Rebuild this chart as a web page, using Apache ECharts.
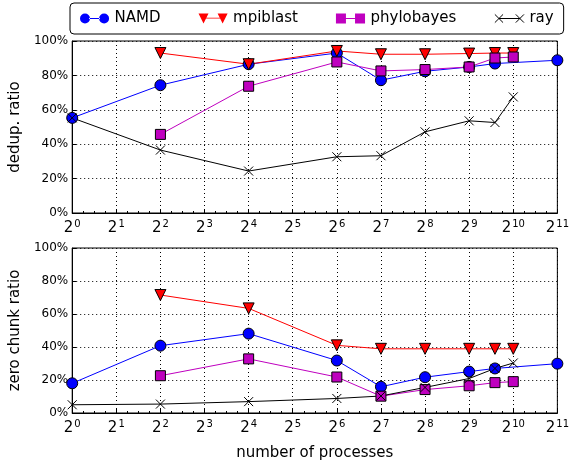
<!DOCTYPE html>
<html>
<head>
<meta charset="utf-8">
<script src="https://cdn.jsdelivr.net/npm/echarts@6/dist/echarts.min.js"></script>
<style>
  html, body { margin: 0; padding: 0; background: #fff; }
  #chart { width: 572px; height: 462px; }
</style>
</head>
<body>
<div id="chart"></div>
<script>
// process counts per series (x axis is log2 of these)
let namdProcs  = [1, 4, 16, 64, 128, 256, 512, 768, 2048];
let otherProcs = [4, 16, 64, 128, 256, 512, 768, 1024];   // mpiblast, phylobayes
let rayProcs   = [1, 4, 16, 64, 128, 256, 512, 768, 1024];

// dedup. ratio (%)
let namdDedup  = [55.3, 74.3, 86.5, 93.0, 77.2, 82.4, 84.9, 86.9, 88.8];
let mpiDedup   = [93.0, 86.5, 94.2, 92.3, 92.3, 92.7, 93.0, 93.0];
let phyloDedup = [45.7, 73.7, 87.8, 82.6, 83.4, 84.9, 90.1, 90.7];
let rayDedup   = [55.3, 36.6, 24.4, 32.7, 33.3, 47.2, 53.6, 52.6, 67.5];

// zero chunk ratio (%)
let namdZero  = [18.0, 40.8, 48.1, 31.8, 15.9, 21.7, 25.1, 27.0, 29.9];
let mpiZero   = [71.5, 63.4, 41.0, 38.9, 38.9, 38.9, 38.9, 38.9];
let phyloZero = [22.6, 32.8, 21.8, 10.2, 14.2, 16.5, 18.4, 19.0];
let rayZero   = [5.0, 5.4, 6.9, 8.8, 10.3, 15.5, 20.9, 27.0, 30.3];

let seriesNames = ['NAMD', 'mpiblast', 'phylobayes', 'ray'];

function pts(procs, vals) {
    return procs.map(function (p, i) { return [Math.log2(p), vals[i]]; });
}

let FONT = 'DejaVu Sans';
let xMark = 'path://M0,0L10,10M10,0L0,10';

// legend icons: marker - line - marker, like matplotlib
let legendIcons = {
    NAMD: 'path://M0,5.5a5.5,5.5 0 1,0 11,0a5.5,5.5 0 1,0 -11,0Z M10,5 L22,5 L22,6 L10,6Z M21,5.5a5.5,5.5 0 1,0 11,0a5.5,5.5 0 1,0 -11,0Z',
    mpiblast: 'path://M0,0L11,0L5.5,11Z M8,4.6L24,4.6L24,5.6L8,5.6Z M21,0L32,0L26.5,11Z',
    phylobayes: 'path://M0,0L11,0L11,11L0,11Z M11,5L21,5L21,6L11,6Z M21,0L32,0L32,11L21,11Z',
    ray: 'path://M0,1L9,10M9,1L0,10M4.5,5.5L27.5,5.5M23,1L32,10M32,1L23,10M0,0.01L0,0M32,11L32,10.99'
};
let legendColors = { NAMD: '#0000ff', mpiblast: '#ff0000', phylobayes: '#bf00bf' };

function xAxisCfg(idx, withName) {
    let a = {
        type: 'value', gridIndex: idx, min: 0, max: 11, interval: 1,
        axisLine: { show: true, onZero: false, lineStyle: { color: '#000', width: 1 } },
        axisTick: { show: true, inside: true, length: 4, lineStyle: { color: '#000' } },
        minorTick: { show: true, splitNumber: 4, length: 2, lineStyle: { color: '#000' } },
        splitLine: { show: true, lineStyle: { color: '#000', type: [1, 3], width: 1 } },
        axisLabel: {
            margin: 6,
            formatter: function (v) { return '{b|2}{s|' + v + '}'; },
            rich: {
                b: { fontFamily: FONT, fontSize: 15, color: '#000', lineHeight: 18 },
                s: { fontFamily: FONT, fontSize: 10, color: '#000', verticalAlign: 'top', padding: [0, 0, 9, 1] }
            }
        }
    };
    if (withName) {
        a.name = 'number of processes';
        a.nameLocation = 'middle';
        a.nameGap = 33;
        a.nameTextStyle = { fontFamily: FONT, fontSize: 15, color: '#000' };
    }
    return a;
}

function yAxisCfg(idx, name) {
    return {
        type: 'value', gridIndex: idx, min: 0, max: 100, interval: 20,
        name: name, nameLocation: 'middle', nameGap: 43,
        nameTextStyle: { fontFamily: FONT, fontSize: 15, color: '#000' },
        axisLine: { show: true, lineStyle: { color: '#000', width: 1 } },
        axisTick: { show: true, inside: true, length: 4, lineStyle: { color: '#000' } },
        splitLine: { show: true, lineStyle: { color: '#000', type: [1, 3], width: 1 } },
        axisLabel: { fontFamily: FONT, fontSize: 12, color: '#000', margin: 4,
            formatter: function (v) { return v + '%'; } }
    };
}

function mk(name, idx, data) {
    let s = { name: name, type: 'line', xAxisIndex: idx, yAxisIndex: idx, data: data,
              symbolSize: 11, z: 3 };
    if (name == 'NAMD') {
        s.symbol = 'circle';
        s.lineStyle = { color: '#0000ff', width: 1 };
        s.itemStyle = { color: '#0000ff', borderColor: '#000', borderWidth: 1 };
    } else if (name == 'mpiblast') {
        s.symbol = 'triangle';
        s.symbolRotate = 180;
        s.symbolSize = 11;
        s.lineStyle = { color: '#ff0000', width: 1 };
        s.itemStyle = { color: '#ff0000', borderColor: '#000', borderWidth: 1 };
    } else if (name == 'phylobayes') {
        s.symbol = 'rect';
        s.symbolSize = 10;
        s.lineStyle = { color: '#bf00bf', width: 1 };
        s.itemStyle = { color: '#bf00bf', borderColor: '#000', borderWidth: 1 };
    } else {
        s.symbol = xMark;
        s.symbolSize = 9;
        s.lineStyle = { color: '#000', width: 1 };
        s.itemStyle = { color: 'rgba(0,0,0,0)', borderColor: '#000', borderWidth: 1 };
    }
    return s;
}

let chart = echarts.init(document.getElementById('chart'), null, { renderer: 'canvas' });

let option = {
    animation: false,
    backgroundColor: '#fff',
    textStyle: { fontFamily: FONT },
    legend: {
        data: seriesNames.map(function (n) {
            let item = { name: n, icon: legendIcons[n] };
            if (n == 'ray') {
                item.itemStyle = { color: 'rgba(0,0,0,0)', borderColor: '#000', borderWidth: 1 };
            } else {
                item.itemStyle = { color: legendColors[n], borderWidth: 0 };
            }
            return item;
        }),
        top: 3, left: 70,
        padding: [8, 10],
        itemGap: 38,
        itemWidth: 30, itemHeight: 10,
        borderColor: '#000', borderWidth: 1, borderRadius: 4,
        textStyle: { fontFamily: FONT, fontSize: 15, color: '#000' }
    },
    grid: [
        { left: 70, right: 11, top: 41, height: 172, show: true, borderColor: '#000', borderWidth: 1 },
        { left: 70, right: 11, top: 248, height: 174, show: true, borderColor: '#000', borderWidth: 1 }
    ],
    xAxis: [xAxisCfg(0, false), xAxisCfg(1, true)],
    yAxis: [yAxisCfg(0, 'dedup. ratio'), yAxisCfg(1, 'zero chunk ratio')],
    series: [
        mk('NAMD', 0, pts(namdProcs, namdDedup)),
        mk('mpiblast', 0, pts(otherProcs, mpiDedup)),
        mk('phylobayes', 0, pts(otherProcs, phyloDedup)),
        mk('ray', 0, pts(rayProcs, rayDedup)),
        mk('NAMD', 1, pts(namdProcs, namdZero)),
        mk('mpiblast', 1, pts(otherProcs, mpiZero)),
        mk('phylobayes', 1, pts(otherProcs, phyloZero)),
        mk('ray', 1, pts(rayProcs, rayZero))
    ]
};

chart.setOption(option);
</script>
</body>
</html>
